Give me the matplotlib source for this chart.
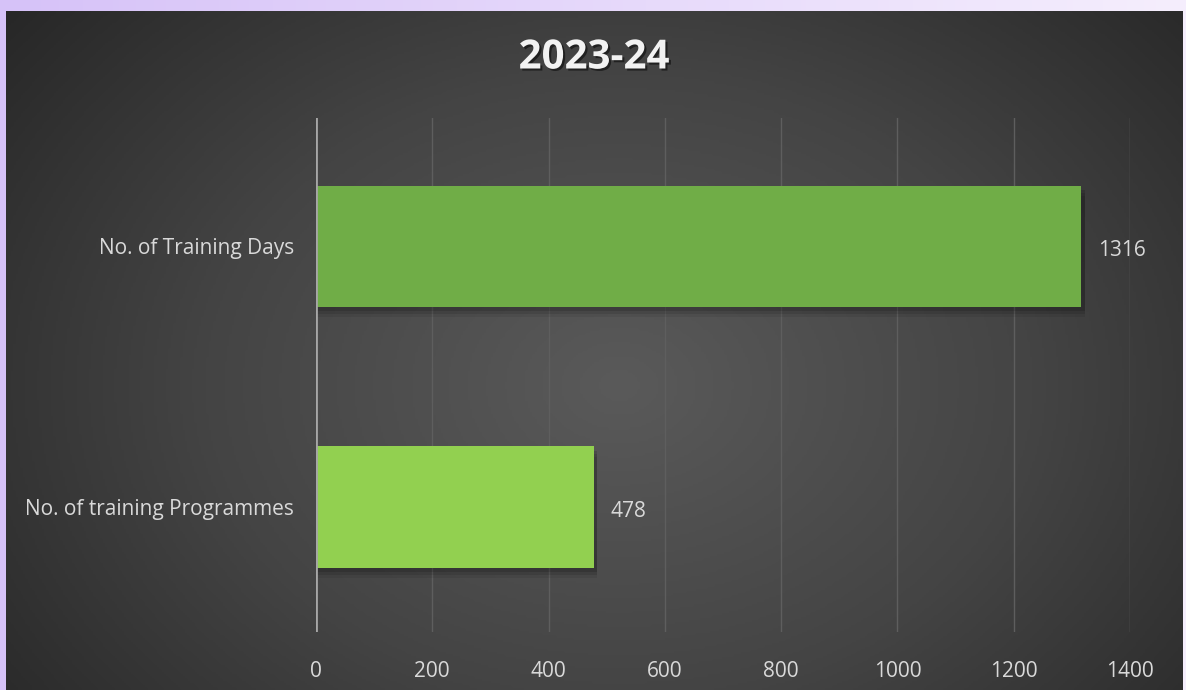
import numpy as np
import matplotlib.pyplot as plt
import matplotlib.patheffects as pe
from matplotlib.colors import LinearSegmentedColormap

# data
categories = ['No. of training Programmes', 'No. of Training Days']
values = [478, 1316]
bar_colors = ['#92D050', '#70AD47']
x_ticks = [0, 200, 400, 600, 800, 1000, 1200, 1400]
title = '2023-24'

W, H = 1186, 690
fig = plt.figure(figsize=(W / 100, H / 100), dpi=100)

# purple page background
bg = fig.add_axes([0, 0, 1, 1])
bg.set_axis_off()
gx = np.linspace(0, 1, 200)[None, :]
purple = LinearSegmentedColormap.from_list('p', ['#d6c2f8', '#f5eefd'])
bg.imshow(np.repeat(gx, 50, axis=0), cmap=purple, aspect='auto', extent=[0, 1, 0, 1])

# dark chart panel with radial gradient
px0, px1, py0 = 6, 1183, 11
panel = fig.add_axes([px0 / W, 0, (px1 - px0) / W, (H - py0) / H])
panel.set_axis_off()
yy, xx = np.mgrid[0:300, 0:500]
cx, cy = 0.52 * 500, 0.55 * 300
d = np.sqrt(((xx - cx) / 370) ** 2 + ((yy - cy) / 290) ** 2)
d = np.clip(d, 0, 1)
dark = LinearSegmentedColormap.from_list('d', ['#5a5a5a', '#444444', '#242424'])
panel.imshow(d, cmap=dark, aspect='auto', extent=[0, 1, 0, 1], vmin=0, vmax=0.95)

# plot area
ax = fig.add_axes([316 / W, 1 - 632 / H, (1130 - 316) / W, (632 - 118) / H])
ax.patch.set_alpha(0)
for s in ax.spines.values():
    s.set_visible(False)

y = np.arange(len(categories))
bh = 0.465
# soft shadow under bars
for off, a in [(0.04, 0.07), (0.028, 0.10), (0.016, 0.13)]:
    ax.barh(y - off, [v + 6 for v in values], height=bh, color='black', alpha=a, zorder=2)
ax.barh(y, values, height=bh, color=bar_colors, zorder=3)

for yi, v in zip(y, values):
    ax.annotate(str(v), (v, yi), xytext=(12, -3), textcoords='offset points',
                va='center', ha='left', color='#d9d9d9', fontsize=15, family='Open Sans')

ax.set_xlim(0, 1400)
ax.set_ylim(-0.48, 1.493)
ax.set_xticks(x_ticks)
ax.set_xticklabels([str(t) for t in x_ticks], color='#d9d9d9', fontsize=15, family='Open Sans')
ax.set_yticks(y)
ax.set_yticklabels(categories, color='#d9d9d9', fontsize=15, family='Open Sans')
for lbl in ax.get_yticklabels():
    lbl.set_y(lbl.get_position()[1])
ax.tick_params(axis='both', length=0)
ax.tick_params(axis='x', pad=21)
ax.tick_params(axis='y', pad=16)
ax.grid(axis='x', color='#5e5e5e', linewidth=1, zorder=1)
ax.axvline(0, color='#a6a6a6', linewidth=2, zorder=4)

fig.text(594 / W, 1 - 58 / H, title, ha='center', va='center', fontsize=29,
         fontweight='bold', color='#f2f2f2', family='Open Sans',
         path_effects=[pe.withSimplePatchShadow(offset=(1.5, -1.5), shadow_rgbFace='black', alpha=0.5)])

fig.savefig('out.png', dpi=100)
